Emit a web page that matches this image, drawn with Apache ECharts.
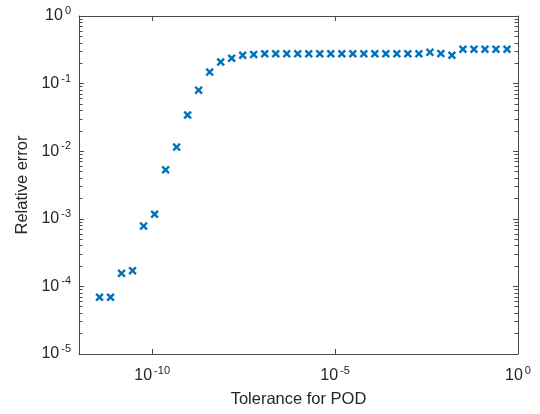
<!DOCTYPE html>
<html>
<head>
<meta charset="utf-8">
<script src="https://cdn.jsdelivr.net/npm/echarts@6/dist/echarts.min.js"></script>
<style>
  html, body { margin: 0; padding: 0; background: #fff; }
  #chart { width: 540px; height: 414px; }
</style>
</head>
<body>
<div id="chart"></div>
<script>
// Tolerance for POD (x) — powers of two from 2^-38 up to 2^-1
const tolerance = [
  3.637978807091713e-12, 7.275957614183426e-12, 1.4551915228366852e-11, 2.9103830456733704e-11,
  5.820766091346741e-11, 1.1641532182693481e-10, 2.3283064365386963e-10, 4.656612873077393e-10,
  9.313225746154785e-10, 1.862645149230957e-9, 3.725290298461914e-9, 7.450580596923828e-9,
  1.4901161193847656e-8, 2.9802322387695312e-8, 5.960464477539063e-8, 1.1920928955078125e-7,
  2.384185791015625e-7, 4.76837158203125e-7, 9.5367431640625e-7, 1.9073486328125e-6,
  3.814697265625e-6, 7.62939453125e-6, 1.52587890625e-5, 3.0517578125e-5,
  6.103515625e-5, 1.220703125e-4, 2.44140625e-4, 4.8828125e-4,
  9.765625e-4, 0.001953125, 0.00390625, 0.0078125,
  0.015625, 0.03125, 0.0625, 0.125, 0.25, 0.5
];
// Relative error (y)
const relError = [
  6.9e-5, 6.9e-5, 1.56e-4, 1.71e-4,
  7.8e-4, 1.17e-3, 5.3e-3, 1.15e-2,
  3.43e-2, 8.0e-2, 0.148, 0.209,
  0.237, 0.262, 0.270, 0.276,
  0.277, 0.277, 0.277, 0.277,
  0.277, 0.277, 0.277, 0.277,
  0.277, 0.277, 0.277, 0.277,
  0.277, 0.277, 0.290, 0.278,
  0.262, 0.322, 0.322, 0.322, 0.322, 0.322
];
const xTicks = [1e-10, 1e-5, 1];
const yTicks = [1e-5, 1e-4, 1e-3, 1e-2, 1e-1, 1];
const yMinorMult = [2, 3, 4, 5, 6, 7, 8, 9];

const yMinorTicks = [];
for (let e = -5; e < 0; e++) {
  for (const m of yMinorMult) yMinorTicks.push(m * Math.pow(10, e));
}

const FONT = 'Liberation Sans';
const TXT = '#262626';
const AX = '#4a4a4a';
const BLUE = '#0072BD';

function pow10Label(v) {
  const e = Math.round(Math.log10(v));
  return '{b|10}{s|' + e + '}';
}
const rich = {
  b: { fontFamily: FONT, fontSize: 16, color: TXT, lineHeight: 21 },
  s: { fontFamily: FONT, fontSize: 11, color: TXT, verticalAlign: 'top', lineHeight: 11, padding: [0, 0, 0, 2] }
};

const data = tolerance.map((t, i) => [t, relError[i]]);

const chart = echarts.init(document.getElementById('chart'), null, { renderer: 'canvas' });
chart.setOption({
  animation: false,
  backgroundColor: '#fff',
  grid: { left: 79, right: 22, top: 16, bottom: 60, containLabel: false },
  xAxis: [
    {
      type: 'log', logBase: 10, min: 1e-12, max: 1, position: 'bottom',
      name: 'Tolerance for POD', nameLocation: 'middle', nameGap: 37,
      nameTextStyle: { fontFamily: FONT, fontSize: 16.5, color: TXT },
      axisLine: { show: true, lineStyle: { color: AX, width: 1 } },
      axisTick: { show: true, inside: true, length: 5, customValues: xTicks, lineStyle: { color: AX } },
      axisLabel: { show: true, customValues: xTicks, margin: 11, formatter: pow10Label, rich: rich },
      splitLine: { show: false }, minorTick: { show: false }
    },
    {
      type: 'log', logBase: 10, min: 1e-12, max: 1, position: 'top',
      axisLine: { show: true, lineStyle: { color: AX, width: 1 } },
      axisTick: { show: true, inside: true, length: 5, customValues: xTicks, lineStyle: { color: AX } },
      axisLabel: { show: false }, splitLine: { show: false }
    }
  ],
  yAxis: [
    {
      type: 'log', logBase: 10, min: 1e-5, max: 1, position: 'left',
      name: 'Relative error', nameLocation: 'middle', nameGap: 47, nameRotate: 90,
      nameTextStyle: { fontFamily: FONT, fontSize: 16.5, color: TXT },
      axisLine: { show: true, lineStyle: { color: AX, width: 1 } },
      axisTick: { show: true, inside: true, length: 5, customValues: yTicks, lineStyle: { color: AX } },
      axisLabel: { show: true, customValues: yTicks, margin: 8, formatter: pow10Label, rich: rich },
      splitLine: { show: false }
    },
    {
      type: 'log', logBase: 10, min: 1e-5, max: 1, position: 'right',
      axisLine: { show: true, lineStyle: { color: AX, width: 1 } },
      axisTick: { show: true, inside: true, length: 5, customValues: yTicks, lineStyle: { color: AX } },
      axisLabel: { show: false }, splitLine: { show: false }
    },
    {
      type: 'log', logBase: 10, min: 1e-5, max: 1, position: 'left',
      axisLine: { show: false },
      axisTick: { show: true, inside: true, length: 3.5, customValues: yMinorTicks, lineStyle: { color: AX } },
      axisLabel: { show: false }, splitLine: { show: false }
    },
    {
      type: 'log', logBase: 10, min: 1e-5, max: 1, position: 'right',
      axisLine: { show: false },
      axisTick: { show: true, inside: true, length: 3.5, customValues: yMinorTicks, lineStyle: { color: AX } },
      axisLabel: { show: false }, splitLine: { show: false }
    }
  ],
  series: [{
    type: 'scatter',
    xAxisIndex: 0, yAxisIndex: 0,
    data: data,
    symbol: 'path://M2,0L5,3L8,0L10,2L7,5L10,8L8,10L5,7L2,10L0,8L3,5L0,2Z',
    symbolSize: 8.5,
    itemStyle: { color: BLUE, opacity: 1 },
    emphasis: { disabled: true }
  }]
});
</script>
</body>
</html>
